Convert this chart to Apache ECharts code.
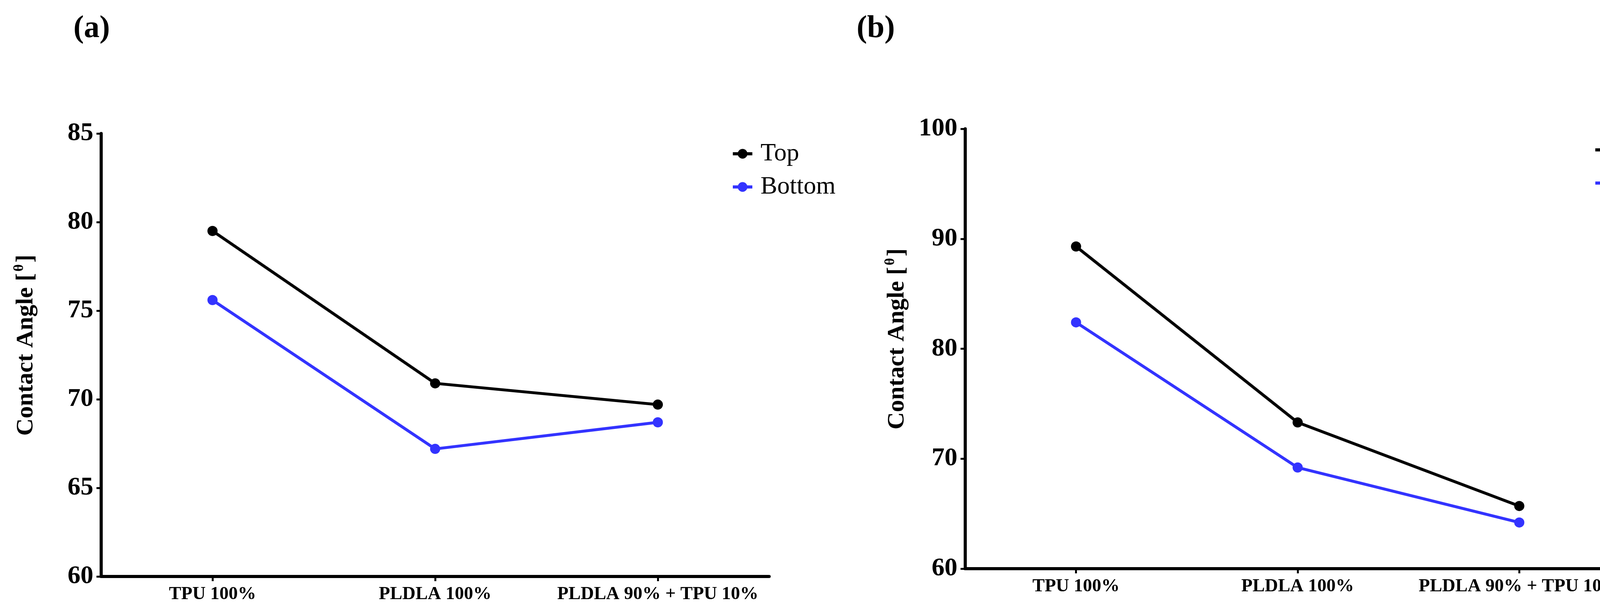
<!DOCTYPE html>
<html>
<head>
<meta charset="utf-8">
<script src="https://cdn.jsdelivr.net/npm/echarts@6/dist/echarts.min.js"></script>
<style>
html,body{margin:0;padding:0;background:#fff;overflow:hidden;}
#chart{width:4363px;height:1568px;}
</style>
</head>
<body>
<div id="chart"></div>
<script>
const categories = ['TPU 100%', 'PLDLA 100%', 'PLDLA 90% + TPU 10%'];
const seriesNames = ['Top', 'Bottom'];
const topA = [79.5, 70.9, 69.7];
const bottomA = [75.6, 67.2, 68.7];
const topB = [89.3, 73.3, 65.7];
const bottomB = [82.4, 69.2, 64.2];
const yTicksA = {min: 60, max: 85, interval: 5};
const yTicksB = {min: 60, max: 100, interval: 10};
const yTitle = 'Contact Angle';
const panelLabels = ['a', 'b'];

const FONT = '"Liberation Serif", "Times New Roman", serif';
const BLACK = '#000000';
const BLUE = '#3333ff';

function xAxis(gridIndex) {
  return {
    type: 'category', gridIndex, data: categories, boundaryGap: true,
    axisLine: {show: true, lineStyle: {color: BLACK, width: 8}},
    axisTick: {show: true, alignWithLabel: true, interval: 0, length: 12, lineStyle: {color: BLACK, width: 5}},
    axisLabel: {color: BLACK, fontFamily: FONT, fontWeight: 'bold', fontSize: 47, margin: 22, interval: 0, hideOverlap: false},
    splitLine: {show: false}
  };
}
function yAxis(gridIndex, t, gap) {
  return {
    type: 'value', gridIndex, min: t.min, max: t.max, interval: t.interval,
    axisLine: {show: true, lineStyle: {color: BLACK, width: 8}},
    axisTick: {show: true, length: 12, lineStyle: {color: BLACK, width: 5}},
    axisLabel: {color: BLACK, fontFamily: FONT, fontWeight: 'bold', fontSize: 66, margin: 20},
    splitLine: {show: false},
    name: '{m|' + yTitle + ' [}{s|θ}{m|]}',
    nameLocation: 'middle',
    nameGap: gap,
    nameTextStyle: {
      padding: [0, 0, 0, 50],
      rich: {
        m: {fontFamily: FONT, fontWeight: 'bold', fontSize: 62, color: BLACK, lineHeight: 70},
        s: {fontFamily: FONT, fontWeight: 'bold', fontSize: 36, color: BLACK, lineHeight: 70, verticalAlign: 'top', padding: [0, 4, 0, 4]}
      }
    }
  };
}
function line(name, data, color, idx) {
  return {
    type: 'line', name, data, xAxisIndex: idx, yAxisIndex: idx,
    symbol: 'circle', symbolSize: 26, showSymbol: true,
    lineStyle: {color, width: 7.5}, itemStyle: {color},
    z: name === 'Top' ? 3 : 2
  };
}
function legend(left, top) {
  return {
    left, top, orient: 'vertical', data: seriesNames, padding: 0,
    itemWidth: 50, itemHeight: 31, itemGap: 21,
    lineStyle: {width: 8},
    textStyle: {fontFamily: FONT, fontSize: 64, color: BLACK, lineHeight: 60, padding: [0, 0, 0, 16]}
  };
}
function panelTitle(letter, left) {
  return {
    text: '{p|(}{b|' + letter + '}{p|)}', left, top: 34, padding: 0,
    textStyle: {rich: {
      p: {fontFamily: FONT, fontSize: 80, color: BLACK},
      b: {fontFamily: FONT, fontSize: 80, fontWeight: 'bold', color: BLACK}
    }}
  };
}

const chart = echarts.init(document.getElementById('chart'), null, {renderer: 'canvas'});
chart.setOption({
  backgroundColor: '#ffffff',
  animation: false,
  title: [panelTitle(panelLabels[0], 188), panelTitle(panelLabels[1], 2193)],
  legend: [legend(1872, 362), legend(4080, 352)],
  grid: [
    {left: 259, right: 2394, top: 342, bottom: 91, containLabel: false},
    {left: 2471, right: 190, top: 330, bottom: 111, containLabel: false}
  ],
  xAxis: [xAxis(0), xAxis(1)],
  yAxis: [yAxis(0, yTicksA, 157), yAxis(1, yTicksB, 139)],
  series: [
    line(seriesNames[0], topA, BLACK, 0),
    line(seriesNames[1], bottomA, BLUE, 0),
    line(seriesNames[0], topB, BLACK, 1),
    line(seriesNames[1], bottomB, BLUE, 1)
  ]
});
</script>
</body>
</html>
